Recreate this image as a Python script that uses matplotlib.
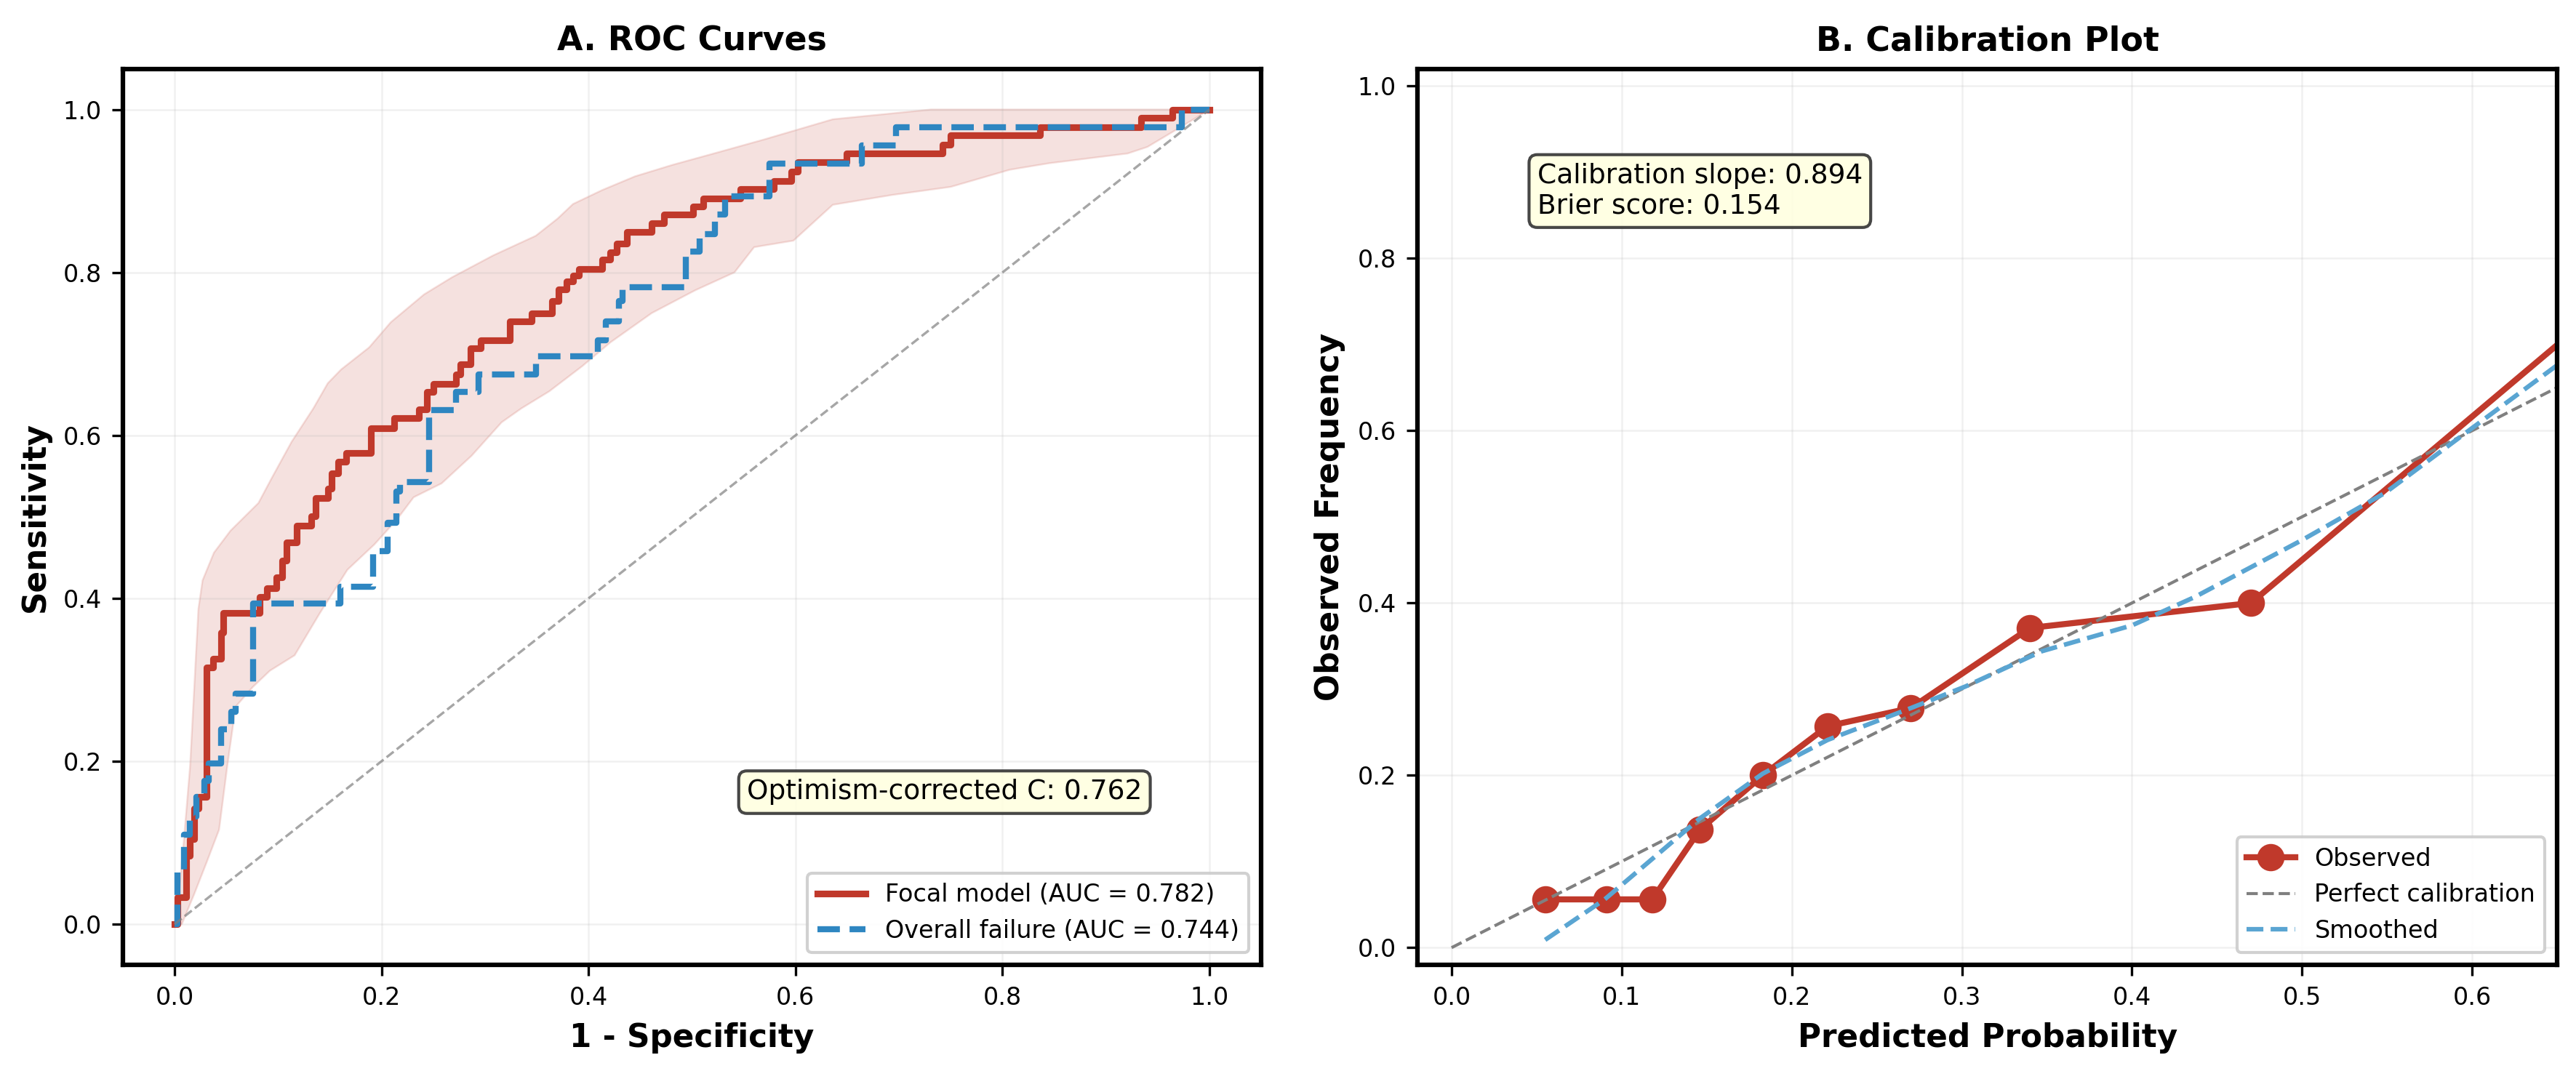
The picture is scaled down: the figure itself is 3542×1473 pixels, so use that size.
import numpy as np
import matplotlib
matplotlib.use("Agg")
import matplotlib.pyplot as plt

# ROC step points (fpr at which tpr jumps, new tpr level)
focal_fpr = [0.0, 0.003, 0.011, 0.015, 0.019, 0.023, 0.031, 0.037, 0.045, 0.047,
             0.082, 0.089, 0.098, 0.104, 0.108, 0.118, 0.132, 0.136, 0.148, 0.152,
             0.158, 0.166, 0.190, 0.212, 0.236, 0.244, 0.250, 0.272, 0.276, 0.286,
             0.296, 0.324, 0.345, 0.365, 0.371, 0.379, 0.385, 0.391, 0.413, 0.421,
             0.427, 0.437, 0.461, 0.473, 0.501, 0.511, 0.547, 0.579, 0.596, 0.602,
             0.649, 0.742, 0.750, 0.836, 0.934, 0.964, 1.0]
focal_tpr = [0.0, 0.033, 0.084, 0.104, 0.142, 0.156, 0.315, 0.326, 0.358, 0.382,
             0.402, 0.412, 0.426, 0.446, 0.469, 0.489, 0.501, 0.523, 0.535, 0.553,
             0.568, 0.578, 0.609, 0.621, 0.632, 0.653, 0.663, 0.675, 0.687, 0.707,
             0.717, 0.740, 0.750, 0.765, 0.779, 0.789, 0.796, 0.804, 0.816, 0.825,
             0.835, 0.850, 0.860, 0.871, 0.881, 0.891, 0.902, 0.912, 0.924, 0.935,
             0.946, 0.957, 0.968, 0.978, 0.990, 1.0, 1.0]

overall_fpr = [0.0, 0.003, 0.009, 0.015, 0.021, 0.029, 0.033, 0.045, 0.055, 0.059,
               0.0755, 0.160, 0.192, 0.206, 0.214, 0.218, 0.246, 0.272, 0.294, 0.349,
               0.409, 0.417, 0.429, 0.433, 0.494, 0.507, 0.522, 0.532, 0.575, 0.664,
               0.697, 0.973, 1.0]
overall_tpr = [0.0, 0.066, 0.110, 0.132, 0.156, 0.176, 0.197, 0.239, 0.261, 0.283,
               0.394, 0.414, 0.458, 0.493, 0.531, 0.543, 0.631, 0.653, 0.675, 0.697,
               0.717, 0.740, 0.765, 0.782, 0.826, 0.847, 0.871, 0.893, 0.934, 0.956,
               0.978, 1.0, 1.0]

# bootstrap band around focal ROC
band_upper_x = [0.0, 0.003, 0.009, 0.015, 0.0206, 0.023, 0.027, 0.038, 0.054, 0.081,
                0.094, 0.113, 0.134, 0.148, 0.161, 0.188, 0.209, 0.241, 0.268, 0.308,
                0.349, 0.370, 0.385, 0.413, 0.445, 0.481, 0.521, 0.569, 0.636, 0.731,
                1.0]
band_upper_y = [0.0, 0.02, 0.104, 0.195, 0.33, 0.387, 0.422, 0.456, 0.483, 0.517,
                0.548, 0.592, 0.633, 0.664, 0.681, 0.708, 0.739, 0.773, 0.794, 0.821,
                0.845, 0.866, 0.884, 0.901, 0.918, 0.932, 0.946, 0.963, 0.988, 1.0,
                1.0]
band_lower_x = [0.007, 0.019, 0.031, 0.043, 0.051, 0.059, 0.0755, 0.092, 0.116, 0.140,
                0.167, 0.193, 0.215, 0.231, 0.258, 0.287, 0.316, 0.335, 0.362, 0.394,
                0.421, 0.461, 0.503, 0.541, 0.560, 0.598, 0.636, 0.693, 0.750, 0.807,
                0.845, 0.921, 0.940, 0.977, 1.0]
band_lower_y = [0.0, 0.037, 0.076, 0.116, 0.195, 0.267, 0.291, 0.311, 0.330, 0.381,
                0.435, 0.466, 0.497, 0.524, 0.541, 0.575, 0.616, 0.633, 0.654, 0.685,
                0.714, 0.750, 0.778, 0.800, 0.831, 0.839, 0.883, 0.895, 0.905, 0.926,
                0.934, 0.946, 0.954, 0.982, 1.0]

# calibration
pred_prob = [0.055, 0.091, 0.118, 0.146, 0.183, 0.221, 0.270, 0.340, 0.470, 0.72]
obs_freq = [0.056, 0.056, 0.056, 0.137, 0.200, 0.257, 0.278, 0.371, 0.400, 0.816]
smooth_x = [0.055, 0.09, 0.146, 0.183, 0.221, 0.27, 0.302, 0.347, 0.40, 0.437,
            0.50, 0.549, 0.60, 0.65]
smooth_y = [0.009, 0.056, 0.15, 0.202, 0.241, 0.278, 0.303, 0.344, 0.374, 0.407,
            0.473, 0.528, 0.603, 0.676]

RED = '#c0392b'
BLUE = '#2e86c1'
LBLUE = '#5aa5d2'

plt.rcParams['font.family'] = 'DejaVu Sans'

fig = plt.figure(figsize=(3542 / 300, 1473 / 300), dpi=300)
ax1 = fig.add_axes([0.0477, 0.0991, 0.4419, 0.8367])
ax2 = fig.add_axes([0.5503, 0.0991, 0.4424, 0.8367])

# --- A. ROC ---
poly_x = np.concatenate([band_upper_x, band_lower_x[::-1]])
poly_y = np.concatenate([band_upper_y, band_lower_y[::-1]])
ax1.fill(poly_x, poly_y, color=RED, alpha=0.15, linewidth=0.6)
ax1.plot(focal_fpr, focal_tpr, drawstyle='steps-post', color=RED, lw=2.2,
         label='Focal model (AUC = 0.782)')
ax1.plot(overall_fpr, overall_tpr, drawstyle='steps-post', color=BLUE, lw=2.0,
         ls='--', label='Overall failure (AUC = 0.744)')
ax1.plot([0, 1], [0, 1], color='gray', ls='--', lw=0.8, alpha=0.7)
ax1.set_xlim(-0.05, 1.05)
ax1.set_ylim(-0.05, 1.05)
ax1.set_xlabel('1 - Specificity', fontsize=10.5, fontweight='bold')
ax1.set_ylabel('Sensitivity', fontsize=10.5, fontweight='bold')
ax1.set_title('A. ROC Curves', fontsize=11, fontweight='bold')
ax1.text(0.553, 0.162, 'Optimism-corrected C: 0.762', fontsize=9, va='center',
         bbox=dict(boxstyle='round,pad=0.3', facecolor='lightyellow',
                   edgecolor='#333333', alpha=0.9))
ax1.legend(loc='lower right', fontsize=8, framealpha=0.9)

# --- B. Calibration ---
ax2.plot(pred_prob, obs_freq, 'o-', color=RED, lw=2, markersize=8,
         label='Observed')
ax2.plot([0, 1], [0, 1], color='gray', ls='--', lw=1, label='Perfect calibration')
ax2.plot(smooth_x, smooth_y, color=LBLUE, ls='--', lw=1.5, label='Smoothed')
ax2.set_xlim(-0.02, 0.65)
ax2.set_ylim(-0.02, 1.02)
ax2.set_xlabel('Predicted Probability', fontsize=10.5, fontweight='bold')
ax2.set_ylabel('Observed Frequency', fontsize=10.5, fontweight='bold')
ax2.set_title('B. Calibration Plot', fontsize=11, fontweight='bold')
ax2.text(0.105, 0.895, 'Calibration slope: 0.894\nBrier score: 0.154',
         transform=ax2.transAxes, fontsize=9, va='top',
         bbox=dict(boxstyle='round,pad=0.3', facecolor='lightyellow',
                   edgecolor='#333333', alpha=0.9))
ax2.legend(loc='lower right', fontsize=8, framealpha=0.9)

for ax in (ax1, ax2):
    ax.grid(True, alpha=0.18, linewidth=0.6)
    ax.tick_params(labelsize=8)
    for s in ax.spines.values():
        s.set_linewidth(1.5)

fig.savefig('out.png', dpi=300)
